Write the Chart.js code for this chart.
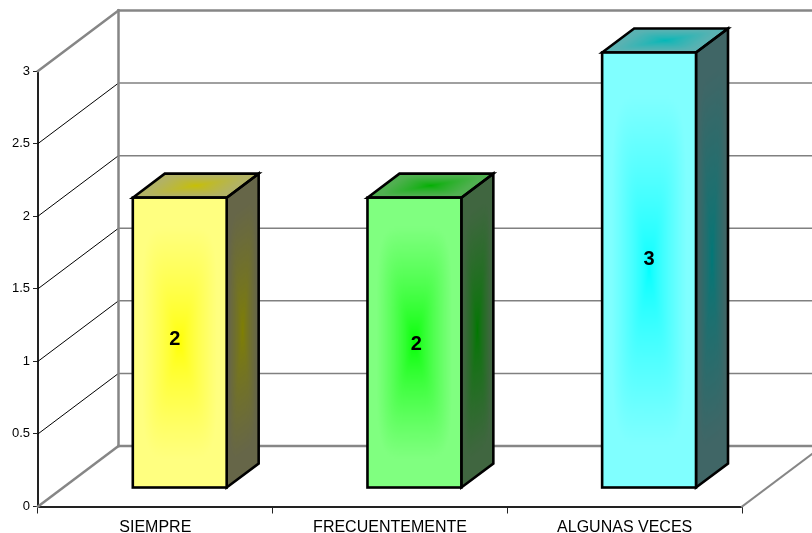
<!DOCTYPE html>
<html><head><meta charset="utf-8">
<style>html,body{margin:0;padding:0;background:#fff}canvas{display:block}</style>
<script src="https://cdn.jsdelivr.net/npm/chart.js@4"></script>
</head><body><canvas id="c" width="812" height="533"></canvas>
<script>
const categories = ['SIEMPRE', 'FRECUENTEMENTE', 'ALGUNAS VECES'];
const values = [2, 2, 3];
const dataLabels = ['2', '2', '3'];
const yTicks = [0, 0.5, 1, 1.5, 2, 2.5, 3];
const frontOuter = [[255,255,128],[128,255,128],[128,255,255]];
const frontInner = [[255,255,0],[0,255,0],[0,255,255]];
const sideOuter = [[102,102,72],[64,102,64],[64,102,102]];
const sideInner = [[128,128,0],[0,120,0],[0,120,120]];
const topOuter = [[178,178,100],[80,176,80],[89,178,178]];
const topInner = [[200,192,0],[0,176,0],[0,184,184]];
const labelNudge = [[-5,-3],[2,2],[0,-11]];

const WALL = {dx: 80.5, dy: -60.5};
const BAR = {dx: 24.4, dy: -18.5, depthX: 32, depthY: -24};

function starTexture(inner, outer, knee, ease) {
  const n = 128, c = document.createElement('canvas');
  c.width = c.height = n;
  const g = c.getContext('2d'), im = g.createImageData(n, n);
  for (let j = 0; j < n; j++) for (let i = 0; i < n; i++) {
    const u = Math.abs((i + .5) / n * 2 - 1), v = Math.abs((j + .5) / n * 2 - 1);
    const m = Math.pow(Math.pow(u, 5) + Math.pow(v, 5), 1 / 5);
    const t = Math.pow(Math.min(1, m / knee), ease);
    const k = (j * n + i) * 4;
    for (let q = 0; q < 3; q++) im.data[k + q] = inner[q] + (outer[q] - inner[q]) * t;
    im.data[k + 3] = 255;
  }
  g.putImageData(im, 0, 0);
  return c;
}
function face(ctx, tex, ox, oy, ux, uy, vx, vy) {
  ctx.save();
  ctx.transform(ux / tex.width, uy / tex.width, vx / tex.height, vy / tex.height, ox, oy);
  ctx.imageSmoothingEnabled = true;
  ctx.drawImage(tex, 0, 0);
  ctx.restore();
}
function poly(ctx, pts) {
  ctx.beginPath();
  pts.forEach((p, i) => i ? ctx.lineTo(p[0], p[1]) : ctx.moveTo(p[0], p[1]));
  ctx.closePath();
}
function seg(ctx, x1, y1, x2, y2, color, w) {
  ctx.strokeStyle = color; ctx.lineWidth = w;
  ctx.beginPath(); ctx.moveTo(x1, y1); ctx.lineTo(x2, y2); ctx.stroke();
}

const box3d = {
  id: 'box3d',
  beforeDatasetsDraw(chart) {
    const ctx = chart.ctx, {x, y} = chart.scales, a = chart.chartArea;
    ctx.save();
    ctx.lineCap = 'square';
    yTicks.forEach(v => {
      const p = y.getPixelForValue(v);
      if (v > 0 && v < 3) {
        seg(ctx, a.left, p, a.left + WALL.dx, p + WALL.dy, '#000', 1);
        seg(ctx, a.left + WALL.dx, p + WALL.dy, 812, p + WALL.dy, '#808080', 1.5);
      }
    });
    const g = '#868686';
    const L = a.left, R = a.right, T = y.getPixelForValue(3), B = y.getPixelForValue(0);
    seg(ctx, L + WALL.dx, T + WALL.dy, 812, T + WALL.dy, g, 2.5);
    seg(ctx, L + WALL.dx, T + WALL.dy, L + WALL.dx, B + WALL.dy, g, 2.5);
    seg(ctx, L + WALL.dx, B + WALL.dy, 812, B + WALL.dy, g, 2.5);
    seg(ctx, L, T, L + WALL.dx, T + WALL.dy, g, 2.5);
    seg(ctx, L, B, L + WALL.dx, B + WALL.dy, g, 2.5);
    seg(ctx, R, B, R + WALL.dx, B + WALL.dy, g, 2);
    ctx.restore();

    // the bars' front plane sits partway into the depth of the box
    chart.getDatasetMeta(0).data.forEach((bar, i) => {
      const l = bar.x - bar.width / 2 + BAR.dx, r = bar.x + bar.width / 2 + BAR.dx;
      const t = bar.y + BAR.dy, b = bar.base + BAR.dy;
      const dx = BAR.depthX, dy = BAR.depthY;
      face(ctx, starTexture(sideInner[i], sideOuter[i], .85, .75), r, t, dx, dy, 0, b - t);
      face(ctx, starTexture(topInner[i], topOuter[i], .85, .75), l + dx, t + dy, r - l, 0, -dx, -dy);
      ctx.save();
      ctx.strokeStyle = '#000'; ctx.lineWidth = 2.6; ctx.lineJoin = 'miter';
      poly(ctx, [[r, t], [r + dx, t + dy], [r + dx, b + dy], [r, b]]); ctx.stroke();
      poly(ctx, [[l, t], [l + dx, t + dy], [r + dx, t + dy], [r, t]]); ctx.stroke();
      ctx.restore();
    });
    ctx.save();
    ctx.translate(BAR.dx, BAR.dy);
  },
  afterDatasetsDraw(chart) {
    const ctx = chart.ctx;
    ctx.restore();
    chart.getDatasetMeta(0).data.forEach((bar, i) => {
      const l = bar.x - bar.width / 2 + BAR.dx, r = bar.x + bar.width / 2 + BAR.dx;
      const t = bar.y + BAR.dy, b = bar.base + BAR.dy;
      const w = r - l, h = b - t;
      face(ctx, starTexture(frontInner[i], frontOuter[i], .8, .7), l, t, w, 0, 0, h);
      ctx.save();
      ctx.strokeStyle = '#000'; ctx.lineWidth = 2.6;
      ctx.strokeRect(l, t, w, h);
      ctx.fillStyle = '#000';
      ctx.font = 'bold 20px "Liberation Sans", Arial, sans-serif';
      ctx.textAlign = 'center'; ctx.textBaseline = 'middle';
      ctx.fillText(dataLabels[i], (l + r) / 2 + labelNudge[i][0], (t + b) / 2 + labelNudge[i][1]);
      ctx.restore();
    });
  }
};

new Chart(document.getElementById('c'), {
  type: 'bar',
  data: {
    labels: categories,
    datasets: [{
      data: values,
      backgroundColor: frontOuter.map(c => `rgb(${c.join(',')})`),
      borderColor: '#000',
      borderWidth: 0,
      categoryPercentage: 1,
      barPercentage: 0.4,
      clip: false
    }]
  },
  options: {
    responsive: false,
    animation: false,
    layout: {padding: {top: 71, right: 70, left: 0, bottom: 0}},
    plugins: {legend: {display: false}, title: {display: false}, tooltip: {enabled: false}},
    scales: {
      x: {
        afterFit(s) { s.height = 26.5; },
        grid: {display: true, drawOnChartArea: false, drawTicks: true, tickLength: 7, color: '#222', offset: true},
        border: {display: true, color: '#222', width: 2},
        ticks: {color: '#000', padding: 4, maxRotation: 0, autoSkip: false,
                font: {family: '"Liberation Sans", Arial, sans-serif', size: 16}}
      },
      y: {
        min: 0, max: 3,
        afterFit(s) { s.width = 38; },
        afterBuildTicks(s) { s.ticks = yTicks.map(v => ({value: v})); },
        grid: {display: true, drawOnChartArea: false, drawTicks: true, tickLength: 5, color: '#222'},
        border: {display: true, color: '#222', width: 2},
        ticks: {color: '#000', padding: 3,
                font: {family: '"Liberation Sans", Arial, sans-serif', size: 13},
                callback: v => String(v)}
      }
    }
  },
  plugins: [box3d]
});
</script></body></html>
